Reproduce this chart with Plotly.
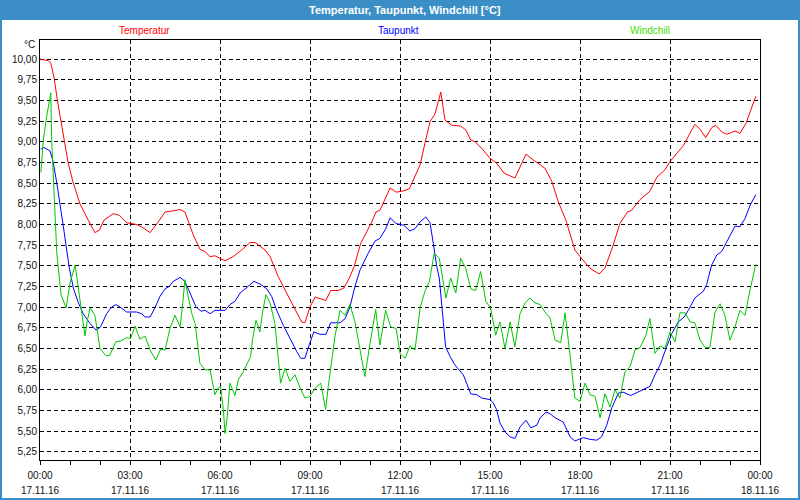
import pandas as pd
import plotly.graph_objects as go

# ---- data (hours after 17.11.16 00:00, value in °C) ----
temp_h = [0.0, 0.28, 0.36, 0.47, 0.58, 0.69, 0.81, 0.94, 1.11, 1.33, 1.61, 1.83, 1.98, 2.13, 2.44, 2.64, 2.89, 3.2, 3.39, 3.67,
          3.94, 4.17, 4.39, 4.67, 4.83, 4.94, 5.11, 5.33, 5.5, 5.67, 5.83, 6.17, 6.44, 6.72, 7.0, 7.17, 7.5, 7.67, 7.94, 8.22,
          8.56, 8.72, 8.83, 9.0, 9.17, 9.39, 9.53, 9.69, 9.94, 10.13, 10.31, 10.47, 10.69, 11.06, 11.2, 11.33, 11.5, 11.67, 11.87, 12.06,
          12.31, 12.5, 12.67, 12.83, 13.0, 13.17, 13.36, 13.5, 13.72, 14.02, 14.2, 14.36, 14.5, 14.72, 15.0, 15.22, 15.47, 15.83, 16.2, 16.44,
          16.83, 17.06, 17.28, 17.53, 17.83, 18.0, 18.33, 18.64, 18.83, 19.09, 19.33, 19.58, 19.72, 20.0, 20.33, 20.56, 20.83, 21.0, 21.44, 21.83,
          22.0, 22.19, 22.39, 22.52, 22.72, 22.89, 23.17, 23.33, 23.53, 23.67, 23.86]
temp_v = [10.00, 9.98, 9.95, 9.77, 9.50, 9.26, 9.00, 8.74, 8.50, 8.25, 8.05, 7.90, 7.93, 8.05, 8.13, 8.11, 8.02, 8.00, 7.97, 7.90,
          8.03, 8.15, 8.16, 8.18, 8.15, 8.03, 7.87, 7.70, 7.67, 7.61, 7.62, 7.56, 7.61, 7.69, 7.78, 7.78, 7.69, 7.61, 7.37, 7.17,
          6.92, 6.82, 6.81, 7.00, 7.12, 7.09, 7.08, 7.20, 7.20, 7.23, 7.35, 7.49, 7.77, 8.03, 8.15, 8.17, 8.30, 8.44, 8.39, 8.40,
          8.43, 8.58, 8.72, 8.98, 9.24, 9.34, 9.60, 9.26, 9.20, 9.19, 9.14, 9.02, 9.00, 8.92, 8.80, 8.74, 8.62, 8.56, 8.85, 8.78,
          8.68, 8.52, 8.27, 8.05, 7.69, 7.61, 7.47, 7.40, 7.47, 7.73, 8.01, 8.15, 8.17, 8.30, 8.40, 8.57, 8.66, 8.76, 8.95, 9.21,
          9.15, 9.05, 9.17, 9.20, 9.12, 9.09, 9.13, 9.10, 9.22, 9.36, 9.55]

dew_h = [0.02, 0.13, 0.33, 0.43, 0.56, 0.67, 0.78, 0.89, 0.98, 1.11, 1.28, 1.44, 1.67, 1.87, 2.02, 2.22, 2.39, 2.53, 2.67, 2.89,
         3.22, 3.39, 3.5, 3.67, 3.83, 4.0, 4.17, 4.31, 4.44, 4.67, 4.83, 5.0, 5.2, 5.37, 5.5, 5.67, 5.83, 6.17, 6.33, 6.5,
         6.67, 6.87, 7.13, 7.33, 7.56, 7.72, 7.89, 8.11, 8.33, 8.56, 8.69, 8.83, 8.98, 9.13, 9.33, 9.53, 9.69, 10.0, 10.17, 10.33,
         10.5, 10.67, 10.94, 11.17, 11.33, 11.53, 11.67, 11.87, 12.13, 12.33, 12.5, 12.67, 12.86, 13.0, 13.11, 13.22, 13.31, 13.44, 13.52, 13.67,
         13.83, 14.11, 14.22, 14.36, 14.56, 14.72, 15.0, 15.11, 15.22, 15.33, 15.5, 15.67, 15.83, 16.0, 16.2, 16.36, 16.56, 16.67, 16.87, 17.0,
         17.17, 17.44, 17.67, 17.83, 18.11, 18.33, 18.56, 18.72, 18.89, 19.06, 19.28, 19.44, 19.69, 19.94, 20.2, 20.33, 20.5, 20.67, 20.89, 21.06,
         21.28, 21.47, 21.61, 21.83, 22.11, 22.22, 22.39, 22.56, 22.72, 22.94, 23.17, 23.33, 23.5, 23.67, 23.86]
dew_v = [8.91, 8.93, 8.89, 8.77, 8.50, 8.25, 7.97, 7.69, 7.47, 7.23, 7.05, 6.92, 6.80, 6.72, 6.76, 6.92, 7.00, 7.03, 7.00, 6.94,
         6.94, 6.92, 6.88, 6.88, 6.99, 7.13, 7.22, 7.25, 7.31, 7.36, 7.31, 7.17, 7.00, 6.95, 6.96, 6.92, 6.96, 6.96, 7.03, 7.07,
         7.17, 7.23, 7.31, 7.28, 7.22, 7.13, 6.96, 6.78, 6.62, 6.46, 6.38, 6.38, 6.55, 6.70, 6.67, 6.67, 6.81, 6.81, 6.86, 7.00,
         7.25, 7.45, 7.65, 7.80, 7.83, 7.95, 8.08, 8.01, 7.99, 7.92, 7.95, 8.03, 8.09, 8.02, 7.77, 7.50, 7.35, 6.88, 6.52, 6.40,
         6.30, 6.18, 6.08, 5.95, 5.94, 5.90, 5.88, 5.84, 5.76, 5.60, 5.49, 5.43, 5.41, 5.55, 5.63, 5.54, 5.57, 5.66, 5.73, 5.71,
         5.66, 5.61, 5.43, 5.38, 5.42, 5.40, 5.39, 5.43, 5.57, 5.78, 5.96, 5.97, 5.93, 5.97, 6.01, 6.04, 6.18, 6.30, 6.52, 6.68,
         6.82, 6.88, 6.96, 7.11, 7.19, 7.27, 7.51, 7.63, 7.67, 7.83, 7.98, 7.97, 8.07, 8.23, 8.36]

chill_h = [0.03, 0.11, 0.22, 0.3, 0.36, 0.39, 0.44, 0.5, 0.56, 0.63, 0.7, 0.87, 1.0, 1.17, 1.28, 1.39, 1.5, 1.58, 1.67, 1.83,
           2.0, 2.2, 2.33, 2.53, 2.69, 2.89, 3.02, 3.17, 3.33, 3.5, 3.67, 3.86, 4.02, 4.17, 4.33, 4.5, 4.67, 4.76, 4.83, 4.94,
           5.06, 5.17, 5.33, 5.5, 5.67, 5.83, 5.94, 6.02, 6.11, 6.17, 6.24, 6.33, 6.5, 6.61, 6.78, 6.91, 7.02, 7.09, 7.2, 7.33,
           7.42, 7.53, 7.67, 7.83, 7.91, 8.02, 8.17, 8.33, 8.5, 8.67, 8.83, 9.0, 9.17, 9.36, 9.42, 9.52, 9.61, 9.72, 9.83, 10.0,
           10.17, 10.33, 10.5, 10.67, 10.83, 11.0, 11.19, 11.33, 11.52, 11.69, 11.87, 12.0, 12.17, 12.33, 12.5, 12.67, 12.83, 12.98, 13.14, 13.31,
           13.53, 13.69, 13.86, 14.02, 14.19, 14.36, 14.52, 14.69, 14.86, 15.02, 15.19, 15.33, 15.5, 15.67, 15.83, 16.0, 16.17, 16.33, 16.5, 16.67,
           16.83, 17.0, 17.17, 17.36, 17.5, 17.61, 17.72, 17.83, 18.0, 18.17, 18.33, 18.5, 18.67, 18.83, 19.0, 19.17, 19.33, 19.5, 19.67, 19.83,
           20.0, 20.2, 20.33, 20.5, 20.67, 20.83, 21.0, 21.17, 21.33, 21.5, 21.67, 21.83, 22.0, 22.17, 22.33, 22.5, 22.67, 22.83, 23.0, 23.17,
           23.33, 23.5, 23.67, 23.86]
chill_v = [8.63, 9.02, 9.30, 9.50, 9.59, 9.02, 8.60, 8.05, 7.65, 7.40, 7.15, 6.99, 7.29, 7.51, 7.21, 6.90, 6.65, 6.84, 6.99, 6.90,
           6.50, 6.41, 6.42, 6.58, 6.59, 6.63, 6.62, 6.77, 6.61, 6.65, 6.48, 6.36, 6.49, 6.48, 6.74, 6.90, 6.76, 7.05, 7.33, 7.13,
           6.92, 6.80, 6.32, 6.24, 6.24, 5.94, 6.02, 6.04, 5.76, 5.47, 5.67, 6.08, 5.93, 6.12, 6.22, 6.32, 6.40, 6.62, 6.84, 6.70,
           6.94, 7.15, 7.05, 6.80, 6.48, 6.08, 6.26, 6.10, 6.18, 6.02, 5.90, 5.92, 6.02, 6.08, 5.96, 5.76, 6.04, 6.36, 6.64, 6.96,
           6.90, 7.03, 6.82, 6.48, 6.16, 6.56, 6.97, 6.54, 6.96, 6.76, 6.74, 6.44, 6.38, 6.53, 6.48, 6.99, 7.19, 7.31, 7.65, 7.59,
           7.11, 7.35, 7.17, 7.59, 7.47, 7.22, 7.20, 7.43, 7.07, 6.99, 6.66, 6.82, 6.50, 6.82, 6.52, 6.92, 7.05, 7.11, 7.05, 7.03,
           6.94, 6.87, 6.60, 6.57, 6.93, 6.60, 6.24, 5.90, 5.86, 6.08, 5.94, 5.92, 5.66, 5.95, 5.79, 6.00, 5.90, 6.22, 6.28, 6.48,
           6.51, 6.66, 6.86, 6.44, 6.53, 6.50, 6.70, 6.58, 6.93, 6.93, 6.82, 6.81, 6.60, 6.51, 6.51, 6.94, 7.04, 6.90, 6.60, 6.76,
           6.96, 6.90, 7.21, 7.52]

series_names = ["Temperatur", "Taupunkt", "Windchill"]
series_colors = ["#ff0000", "#0000ff", "#00c800"]
label_colors = ["#ff0000", "#0000ff", "#44dd00"]
title_text = "Temperatur, Taupunkt, Windchill [°C]"

base = pd.Timestamp("2016-11-17 00:00")

def to_time(hours):
    return [base + pd.Timedelta(hours=h) for h in hours]

fig = go.Figure()
for name, hh, vv, col in zip(series_names, [temp_h, dew_h, chill_h], [temp_v, dew_v, chill_v], series_colors):
    fig.add_trace(go.Scatter(x=to_time(hh), y=vv, mode="lines", name=name,
                             line=dict(color=col, width=1), showlegend=False, hoverinfo="skip"))

W, H = 800, 500
L, R, T, B = 40, 40, 40, 40
pw, ph = W - L - R, H - T - B

def px_x(x):
    return (x - L) / pw

def px_y(y):
    return (H - B - y) / ph

blue = "#3c8fc6"
shapes = [
    dict(type="rect", xref="paper", yref="paper", x0=px_x(0), x1=px_x(W), y0=px_y(20), y1=px_y(0),
         fillcolor=blue, line=dict(width=0), layer="below"),
    dict(type="rect", xref="paper", yref="paper", x0=px_x(1), x1=px_x(W - 1), y0=px_y(H - 1), y1=px_y(1),
         line=dict(color=blue, width=2), fillcolor="rgba(0,0,0,0)"),
]

annotations = [
    dict(text=title_text, x=px_x(405), y=px_y(10), xref="paper", yref="paper", showarrow=False,
         font=dict(family="Liberation Sans", size=11, color="white", weight="bold"), xanchor="center", yanchor="middle"),
    dict(text="°C", x=px_x(37), y=px_y(45), xref="paper", yref="paper", showarrow=False,
         font=dict(family="Liberation Sans", size=10, color="#111"), xanchor="right", yanchor="middle"),
]
for name, col, cx in zip(series_names, label_colors, [144, 398, 650]):
    annotations.append(dict(text=name, x=px_x(cx), y=px_y(30), xref="paper", yref="paper", showarrow=False,
                            font=dict(family="Liberation Sans", size=10, color=col), xanchor="center", yanchor="middle"))

grid_dash = "4px,3px"
fig.update_layout(
    width=W, height=H, margin=dict(l=L, r=R, t=T, b=B, autoexpand=False),
    paper_bgcolor="white", plot_bgcolor="white",
    separators=",.", hovermode=False,
    font=dict(family="Liberation Sans", size=10, color="#111"),
    shapes=shapes, annotations=annotations,
    xaxis=dict(type="date", range=[base, base + pd.Timedelta(hours=24)],
               tick0=base, dtick=3 * 3600 * 1000,
               tickformat="<span style='font-size:10px'>%H:%M</span><br><span style='font-size:10px'>%d.%m.%y</span>",
               showgrid=True, gridcolor="black", gridwidth=1, griddash=grid_dash,
               showline=True, linecolor="black", linewidth=1, mirror=True,
               ticks="outside", ticklen=4, tickcolor="black", ticklabelstandoff=0,
               minor=dict(dtick=3600 * 1000, ticks="outside", ticklen=4, tickcolor="black", showgrid=False),
               tickfont=dict(size=11.5, color="#111"), zeroline=False, fixedrange=True, automargin=False),
    yaxis=dict(range=[5.15, 10.23], tick0=5.25, dtick=0.25, tickformat=".2f",
               showgrid=True, gridcolor="black", gridwidth=1, griddash=grid_dash,
               showline=True, linecolor="black", linewidth=1, mirror=True,
               ticks="", tickfont=dict(size=10, color="#111"), zeroline=False, fixedrange=True, automargin=False),
)

fig.write_html("out.html", config={"displayModeBar": False, "staticPlot": True},
               post_script="document.body.style.margin='0px';")
